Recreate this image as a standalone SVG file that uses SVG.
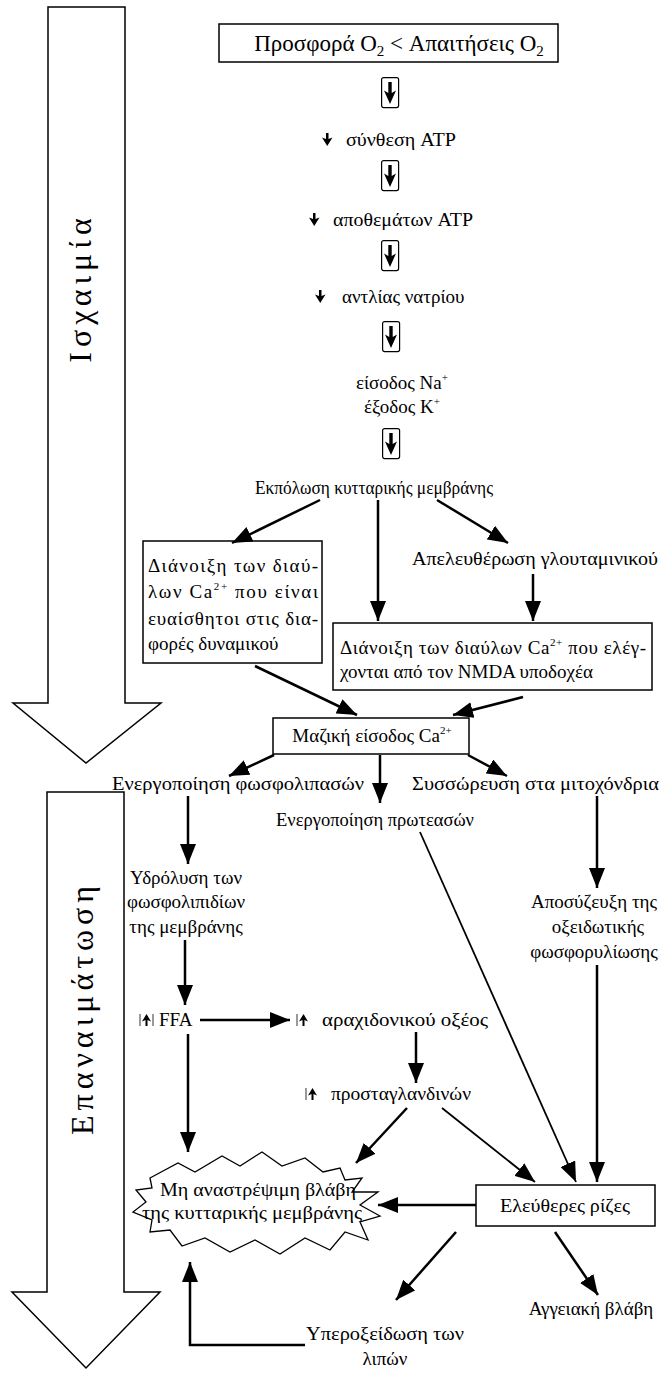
<svg xmlns="http://www.w3.org/2000/svg" width="661" height="1373" viewBox="0 0 661 1373">
<style>
text{font-family:"Liberation Serif","Times New Roman",serif;fill:#000;}
.t{font-size:19px;}
.m{text-anchor:middle;}
.box{fill:#fff;stroke:#000;stroke-width:1.5;}
.big{fill:#fff;stroke:#000;stroke-width:1.5;}
.c{fill:none;stroke:#000;stroke-width:2.5;}
.thin{fill:none;stroke:#000;stroke-width:1.8;}
.lbl{font-size:32px;letter-spacing:5px;}
.bar{stroke:#000;stroke-width:0.8;}
</style>
<defs>
<marker id="ah" markerUnits="userSpaceOnUse" markerWidth="20" markerHeight="16" refX="20" refY="8" orient="auto">
<path d="M0,0 L20,8 L0,16 z" fill="#000"/>
</marker>
<g id="bigIcon">
<rect x="0.6" y="0.6" width="17" height="30" rx="2" fill="#fff" stroke="#000" stroke-width="1.2"/>
<path d="M7.3,5 H10.7 V16 L15,13.5 L9,27 L3,13.5 L7.3,16 Z" fill="#000"/>
</g>
<g id="dn">
<path d="M4,0 H6.5 V6 L10.5,4.5 L5.25,13 L0,4.5 L4,6 Z" fill="#000"/>
</g>
<g id="up">
<path d="M3.5,12 H5.5 V6 L9,7.5 L4.5,0 L0,7.5 L3.5,6 Z" fill="#000"/>
</g>
</defs>

<g id="ischemia-arrow">
<path class="big" d="M48,7 H125 V703 H161 L86,763 L13,703 H48 Z"/>
<text class="lbl m" transform="translate(91,288) rotate(-90)">Ισχαιμία</text>
</g>
<g id="reperfusion-arrow">
<path class="big" d="M47,792 H124 V1292 H160 L86,1368 L12,1292 H47 Z"/>
<text class="lbl m" transform="translate(93,1008) rotate(-90)">Επαναιμάτωση</text>
</g>

<g id="n-supply">
<rect class="box" x="219" y="24" width="339" height="38"/>
<text class="m" style="font-size:23px" x="399" y="51">Προσφορά O<tspan font-size="15" dy="5">2</tspan><tspan dy="-5"> &lt; Απαιτήσεις O</tspan><tspan font-size="15" dy="5">2</tspan></text>
</g>
<use href="#bigIcon" x="381" y="77"/>
<g id="n-atp-synth">
<use href="#dn" x="322" y="133"/>
<text class="t" x="346" y="146" textLength="110" lengthAdjust="spacingAndGlyphs">σύνθεση ATP</text>
</g>
<use href="#bigIcon" x="381" y="160"/>
<g id="n-atp-store">
<use href="#dn" x="309" y="213"/>
<text class="t" x="333" y="226" textLength="140" lengthAdjust="spacingAndGlyphs">αποθεμάτων ATP</text>
</g>
<use href="#bigIcon" x="381" y="240"/>
<g id="n-pump">
<use href="#dn" x="315" y="290"/>
<text class="t" x="342" y="303">αντλίας νατρίου</text>
</g>
<use href="#bigIcon" x="382" y="321"/>
<g id="n-ions">
<text class="t m" x="402" y="389">είσοδος Na<tspan font-size="11" dy="-8">+</tspan></text>
<text class="t m" x="402" y="413">έξοδος K<tspan font-size="11" dy="-8">+</tspan></text>
</g>
<use href="#bigIcon" x="382" y="428"/>
<g id="n-depol">
<text class="t m" x="374" y="494" textLength="238" lengthAdjust="spacingAndGlyphs">Εκπόλωση κυτταρικής μεμβράνης</text>
</g>
<g id="n-vgcc">
<rect class="box" x="143" y="541" width="179" height="122"/>
<text class="t" x="148" y="572" textLength="170" lengthAdjust="spacing">Διάνοιξη των διαύ-</text>
<text class="t" x="148" y="598" textLength="170" lengthAdjust="spacing">λων Ca<tspan font-size="11" dy="-8">2+</tspan><tspan dy="8"> που είναι</tspan></text>
<text class="t" x="148" y="625" textLength="170" lengthAdjust="spacing">ευαίσθητοι στις δια-</text>
<text class="t" x="148" y="650">φορές δυναμικού</text>
</g>
<g id="n-glut">
<text class="t" x="412" y="565" textLength="246" lengthAdjust="spacingAndGlyphs">Απελευθέρωση γλουταμινικού</text>
</g>
<g id="n-nmda">
<rect class="box" x="333" y="623" width="319" height="67"/>
<text class="t" x="340" y="654" textLength="306" lengthAdjust="spacing">Διάνοιξη των διαύλων Ca<tspan font-size="11" dy="-8">2+</tspan><tspan dy="8"> που ελέγ-</tspan></text>
<text class="t" x="340" y="678">χονται από τον NMDA υποδοχέα</text>
</g>
<g id="n-ca">
<rect class="box" x="273" y="718" width="196" height="36"/>
<text class="t m" x="372" y="742">Μαζική είσοδος  Ca<tspan font-size="11" dy="-8">2+</tspan></text>
</g>
<g id="n-plase">
<text class="t" x="112" y="790" textLength="252" lengthAdjust="spacingAndGlyphs">Ενεργοποίηση φωσφολιπασών</text>
</g>
<g id="n-prot">
<text class="t" x="276" y="826" textLength="198" lengthAdjust="spacingAndGlyphs">Ενεργοποίηση πρωτεασών</text>
</g>
<g id="n-mito">
<text class="t" x="412" y="790" textLength="247" lengthAdjust="spacingAndGlyphs">Συσσώρευση στα μιτοχόνδρια</text>
</g>
<g id="n-hydro">
<text class="t m" x="186" y="884">Υδρόλυση των</text>
<text class="t m" x="186" y="908">φωσφολιπιδίων</text>
<text class="t m" x="186" y="933">της μεμβράνης</text>
</g>
<g id="n-uncoup">
<text class="t m" x="594" y="908">Αποσύζευξη της</text>
<text class="t m" x="598" y="933">οξειδωτικής</text>
<text class="t m" x="594" y="958">φωσφορυλίωσης</text>
</g>
<g id="n-ffa">
<line class="bar" x1="140" y1="1014" x2="140" y2="1026"/>
<use href="#up" x="142" y="1014"/>
<line class="bar" x1="153" y1="1014" x2="153" y2="1026"/>
<text class="t" x="159" y="1026">FFA</text>
</g>
<g id="n-arach">
<line class="bar" x1="297" y1="1014" x2="297" y2="1026"/>
<use href="#up" x="299" y="1014"/>
<text class="t" x="322" y="1026" textLength="166" lengthAdjust="spacingAndGlyphs">αραχιδονικού οξέος</text>
</g>
<g id="n-pg">
<line class="bar" x1="306" y1="1088" x2="306" y2="1100"/>
<use href="#up" x="308" y="1088"/>
<text class="t" x="331" y="1100" textLength="140" lengthAdjust="spacingAndGlyphs">προσταγλανδινών</text>
</g>
<g id="n-damage">
<path fill="#fff" stroke="#000" stroke-width="1.3" d="M150,1178 L178,1163 L195,1172 L222,1156 L240,1166 L262,1152 L282,1166 L305,1158 L323,1172 L340,1168 L345,1180 L362,1178 L352,1192 L378,1192 L360,1205 L380,1216 L360,1222 L368,1240 L345,1232 L330,1250 L305,1238 L280,1254 L255,1240 L230,1252 L205,1238 L182,1246 L170,1230 L150,1232 L152,1220 L133,1212 L146,1202 L136,1190 L152,1188 Z"/>
<text class="t m" x="258" y="1196" textLength="196" lengthAdjust="spacingAndGlyphs">Μη αναστρέψιμη βλάβη</text>
<text class="t m" x="252" y="1219" textLength="220" lengthAdjust="spacingAndGlyphs">της  κυτταρικής μεμβράνης</text>
</g>
<g id="n-radicals">
<rect class="box" x="476" y="1185" width="179" height="41"/>
<text class="t m" x="565" y="1212" textLength="130" lengthAdjust="spacingAndGlyphs">Ελεύθερες ρίζες</text>
</g>
<g id="n-vasc">
<text class="t m" x="591" y="1315">Αγγειακή βλάβη</text>
</g>
<g id="n-perox">
<text class="t m" x="385" y="1340" textLength="158" lengthAdjust="spacingAndGlyphs">Υπεροξείδωση των</text>
<text class="t m" x="385" y="1365">λιπών</text>
</g>

<g id="connectors">
<line class="c" x1="320" y1="500" x2="232" y2="543" marker-end="url(#ah)"/>
<line class="c" x1="378" y1="500" x2="378" y2="621" marker-end="url(#ah)"/>
<line class="c" x1="437" y1="500" x2="508" y2="543" marker-end="url(#ah)"/>
<line class="c" x1="533" y1="574" x2="533" y2="621" marker-end="url(#ah)"/>
<line class="c" x1="255" y1="666" x2="357" y2="715" marker-end="url(#ah)"/>
<line class="c" x1="523" y1="697" x2="453" y2="715" marker-end="url(#ah)"/>
<line class="c" x1="274" y1="755" x2="229" y2="776" marker-end="url(#ah)"/>
<line class="c" x1="380" y1="755" x2="380" y2="803" marker-end="url(#ah)"/>
<line class="c" x1="468" y1="755" x2="507" y2="776" marker-end="url(#ah)"/>
<line class="c" x1="188" y1="796" x2="188" y2="864" marker-end="url(#ah)"/>
<line class="c" x1="597" y1="796" x2="597" y2="888" marker-end="url(#ah)"/>
<line class="c" x1="185" y1="940" x2="185" y2="1005" marker-end="url(#ah)"/>
<line class="c" x1="200" y1="1020" x2="290" y2="1020" marker-end="url(#ah)"/>
<line class="c" x1="416" y1="1032" x2="416" y2="1083" marker-end="url(#ah)"/>
<line class="c" x1="188" y1="1034" x2="188" y2="1152" marker-end="url(#ah)"/>
<line class="c" x1="407" y1="1108" x2="356" y2="1163" marker-end="url(#ah)"/>
<line class="thin" x1="442" y1="1108" x2="535" y2="1182" marker-end="url(#ah)"/>
<line class="thin" x1="420" y1="832" x2="576" y2="1182" marker-end="url(#ah)"/>
<line class="c" x1="597" y1="965" x2="597" y2="1182" marker-end="url(#ah)"/>
<line class="c" x1="476" y1="1205" x2="378" y2="1205" marker-end="url(#ah)"/>
<line class="c" x1="456" y1="1232" x2="396" y2="1300" marker-end="url(#ah)"/>
<line class="c" x1="555" y1="1232" x2="598" y2="1295" marker-end="url(#ah)"/>
<polyline class="c" points="305,1345 190,1345 190,1262" marker-end="url(#ah)"/>
</g>
</svg>
